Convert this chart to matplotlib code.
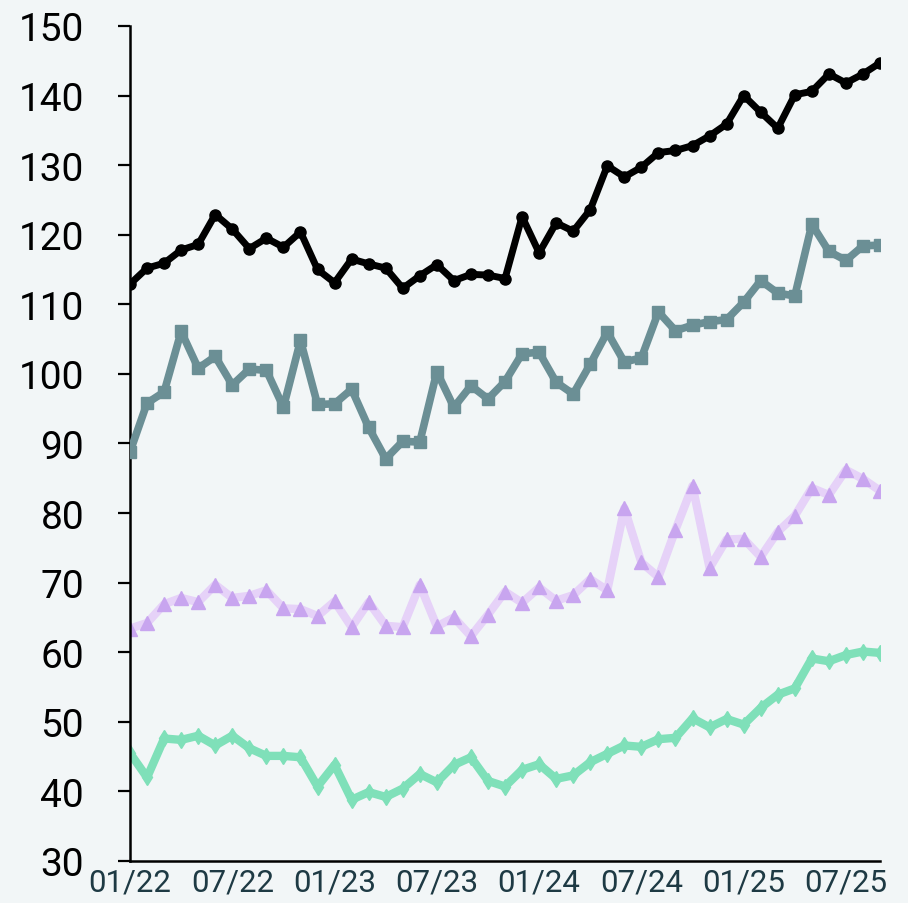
import numpy as np
import matplotlib
matplotlib.use("Agg")
import matplotlib.pyplot as plt

# monthly values, 01/22 .. 09/25
months = [f"{m:02d}/{y % 100:02d}" for y in range(2022, 2026) for m in range(1, 13)][:45]

black_vals = [112.9, 115.2, 115.9, 117.8, 118.6, 122.9, 120.8, 118.0, 119.5, 118.2,
              120.4, 115.0, 113.1, 116.5, 115.8, 115.2, 112.3, 114.1, 115.7, 113.4,
              114.3, 114.2, 113.7, 122.6, 117.4, 121.7, 120.5, 123.6, 129.9, 128.3,
              129.7, 131.8, 132.1, 132.8, 134.2, 135.9, 140.0, 137.6, 135.3, 140.1,
              140.6, 143.1, 141.8, 143.1, 144.7]

teal_vals = [88.8, 95.8, 97.4, 106.1, 100.8, 102.5, 98.4, 100.7, 100.5, 95.2,
             104.8, 95.6, 95.7, 97.8, 92.3, 87.8, 90.3, 90.2, 100.3, 95.2,
             98.3, 96.4, 98.9, 102.9, 103.1, 98.8, 97.1, 101.4, 106.0, 101.7,
             102.3, 108.9, 106.2, 107.0, 107.5, 107.8, 110.3, 113.4, 111.6, 111.2,
             121.5, 117.6, 116.3, 118.4, 118.5]

purple_vals = [63.4, 64.2, 66.9, 67.8, 67.2, 69.7, 67.8, 68.1, 68.9, 66.3,
               66.2, 65.2, 67.3, 63.6, 67.2, 63.8, 63.6, 69.7, 63.7, 65.0,
               62.3, 65.4, 68.7, 67.1, 69.3, 67.4, 68.2, 70.5, 68.9, 80.7,
               72.9, 70.8, 77.6, 83.9, 72.1, 76.2, 76.3, 73.7, 77.3, 79.6,
               83.6, 82.6, 86.2, 84.9, 83.2]

green_vals = [45.5, 42.0, 47.6, 47.4, 48.0, 46.6, 48.0, 46.2, 45.1, 45.1,
              44.9, 40.7, 43.8, 38.8, 39.9, 39.2, 40.4, 42.5, 41.3, 43.8,
              44.9, 41.5, 40.7, 43.1, 43.9, 41.8, 42.3, 44.2, 45.4, 46.6,
              46.4, 47.5, 47.7, 50.5, 49.2, 50.4, 49.6, 52.0, 53.9, 54.8,
              59.1, 58.7, 59.6, 60.1, 59.9]

tick_idx = list(range(0, 45, 6))
y_ticks = list(range(30, 151, 10))

bg = "#f2f6f7"
plt.rcParams["font.family"] = ["Roboto", "DejaVu Sans"]

fig = plt.figure(figsize=(9.08, 9.04), dpi=100, facecolor=bg)
ax = fig.add_axes([0.1432, 0.0465, 0.8260, 0.9237])
ax.set_facecolor(bg)

x = np.arange(len(months))
ax.plot(x, green_vals, color="#7fe0b9", lw=6, marker="d", ms=8,
        mfc="#7fe0b9", mec="#7fe0b9", zorder=2)
ax.plot(x, purple_vals, color="#e6d2f8", lw=6, marker="^", ms=10.5,
        mfc="#c8a5ef", mec="#c8a5ef", zorder=2)
ax.plot(x, teal_vals, color="#6b8f95", lw=5.5, marker="s", ms=9,
        mfc="#6b8f95", mec="#6b8f95", zorder=3)
ax.plot(x, black_vals, color="black", lw=5, marker="o", ms=8,
        mfc="black", mec="black", zorder=4)

ax.set_xlim(0, len(months) - 1)
ax.set_ylim(30, 150)
ax.set_yticks(y_ticks)
ax.set_yticklabels([str(v) for v in y_ticks], fontsize=28, color="black")
ax.set_xticks(tick_idx)
ax.set_xticklabels([months[i] for i in tick_idx], fontsize=22.5, color="#1e3a44")

ax.tick_params(axis="y", length=9, width=1.6, pad=24, color="black")
ax.tick_params(axis="x", length=0, pad=5)

for s in ["top", "right"]:
    ax.spines[s].set_visible(False)
for s in ["left", "bottom"]:
    ax.spines[s].set_linewidth(1.8)
    ax.spines[s].set_color("black")

fig.savefig("out.png", dpi=100, facecolor=bg)
